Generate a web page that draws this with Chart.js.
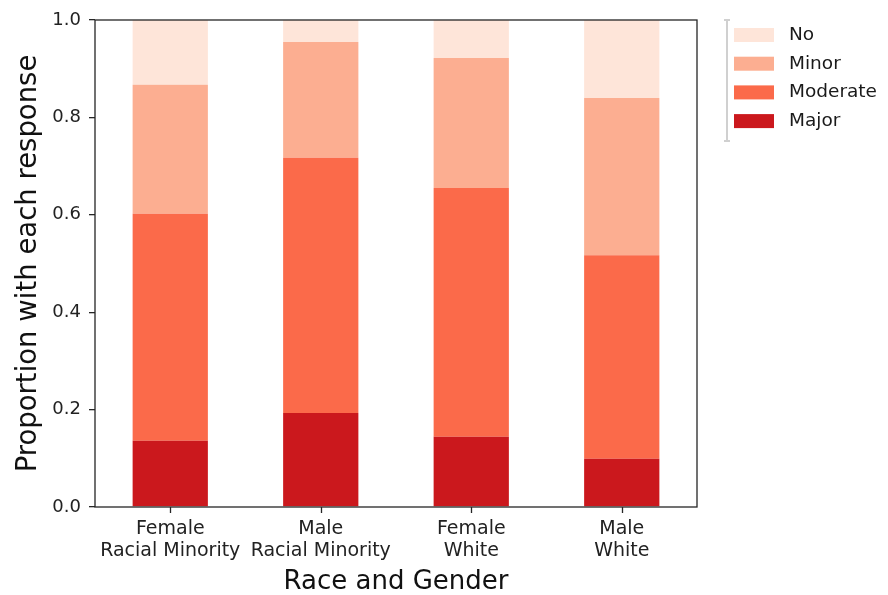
<!DOCTYPE html>
<html>
<head>
<meta charset="utf-8">
<script src="https://cdn.jsdelivr.net/npm/chart.js@4"></script>
<style>
  html, body { margin: 0; padding: 0; background: #fff; }
  #wrap { width: 888px; height: 595px; }
</style>
</head>
<body>
<div id="wrap"><canvas id="c" width="888" height="595"></canvas></div>
<script>
// Categories (two-line labels) and stacked proportions per response level
const categories = [
  ["Female", "Racial Minority"],
  ["Male", "Racial Minority"],
  ["Female", "White"],
  ["Male", "White"]
];
const major    = [0.136, 0.193, 0.144, 0.099];
const moderate = [0.466, 0.524, 0.511, 0.418];
const minor    = [0.265, 0.238, 0.267, 0.323];
const no       = [0.133, 0.045, 0.078, 0.160];
const yTicks   = [0.0, 0.2, 0.4, 0.6, 0.8, 1.0];

const FONT = "'DejaVu Sans', sans-serif";
const AX = '#262626';

// Frame around the plot area (all four spines) plus tick marks under each category
const spines = {
  id: 'spines',
  afterDatasetsDraw(chart) {
    const { ctx, chartArea: a } = chart;
    const xs = chart.scales.x;
    ctx.save();
    ctx.strokeStyle = AX;
    ctx.lineWidth = 1.3;
    ctx.strokeRect(a.left, a.top, a.right - a.left, a.bottom - a.top);
    ctx.beginPath();
    categories.forEach((_, i) => {
      const x = Math.round(xs.getPixelForValue(i)) + 0.5;
      ctx.moveTo(x, a.bottom);
      ctx.lineTo(x, a.bottom + 6);
    });
    ctx.stroke();
    ctx.restore();
  }
};

// Legend to the right of the plot, topmost series first
const sideLegend = {
  id: 'sideLegend',
  afterDraw(chart) {
    const { ctx } = chart;
    const ds = chart.data.datasets.slice().reverse();
    ctx.save();
    ctx.strokeStyle = '#d0d0d0';
    ctx.lineWidth = 2;
    ctx.beginPath();
    ctx.moveTo(727, 20); ctx.lineTo(727, 141);
    ctx.moveTo(724, 20); ctx.lineTo(730, 20);
    ctx.moveTo(724, 141); ctx.lineTo(730, 141);
    ctx.stroke();
    ctx.font = '18.5px ' + FONT;
    ctx.textBaseline = 'middle';
    ds.forEach((d, i) => {
      const y = 28 + i * 28.7;
      ctx.fillStyle = d.backgroundColor;
      ctx.fillRect(734, y, 40, 14);
      ctx.fillStyle = '#1a1a1a';
      ctx.fillText(d.label, 789, y + 7);
    });
    ctx.restore();
  }
};

new Chart(document.getElementById('c'), {
  type: 'bar',
  data: {
    labels: categories,
    datasets: [
      { label: 'Major',    data: major,    backgroundColor: '#cb181d' },
      { label: 'Moderate', data: moderate, backgroundColor: '#fb6a4a' },
      { label: 'Minor',    data: minor,    backgroundColor: '#fcae91' },
      { label: 'No',       data: no,       backgroundColor: '#fee5d9' }
    ]
  },
  options: {
    responsive: false,
    animation: false,
    layout: { padding: { top: 20, right: 191, left: 0, bottom: 0 } },
    datasets: { bar: { categoryPercentage: 1.0, barPercentage: 0.5, borderWidth: 0 } },
    plugins: { legend: { display: false }, tooltip: { enabled: false } },
    scales: {
      x: {
        stacked: true,
        grid: { display: false },
        border: { display: false },
        ticks: { color: '#222', font: { family: FONT, size: 19, lineHeight: 1.17 }, padding: 3, maxRotation: 0 },
        title: { display: true, text: 'Race and Gender', color: '#111', font: { family: FONT, size: 26 }, padding: { top: 0, bottom: -3 } },
        afterFit(s) { s.height = 88; }
      },
      y: {
        stacked: true,
        min: 0, max: 1,
        afterBuildTicks(s) { s.ticks = yTicks.map(v => ({ value: v })); },
        grid: { display: true, drawOnChartArea: false, tickLength: 6, color: AX, lineWidth: 1.3 },
        border: { display: false },
        ticks: { color: '#222', font: { family: FONT, size: 18 }, padding: 8, callback: v => v.toFixed(1) },
        title: { display: true, text: 'Proportion with each response', color: '#111', font: { family: FONT, size: 27.5 }, padding: { top: 12, bottom: 0 } },
        afterFit(s) { s.width = 95; }
      }
    }
  },
  plugins: [spines, sideLegend]
});
</script>
</body>
</html>
